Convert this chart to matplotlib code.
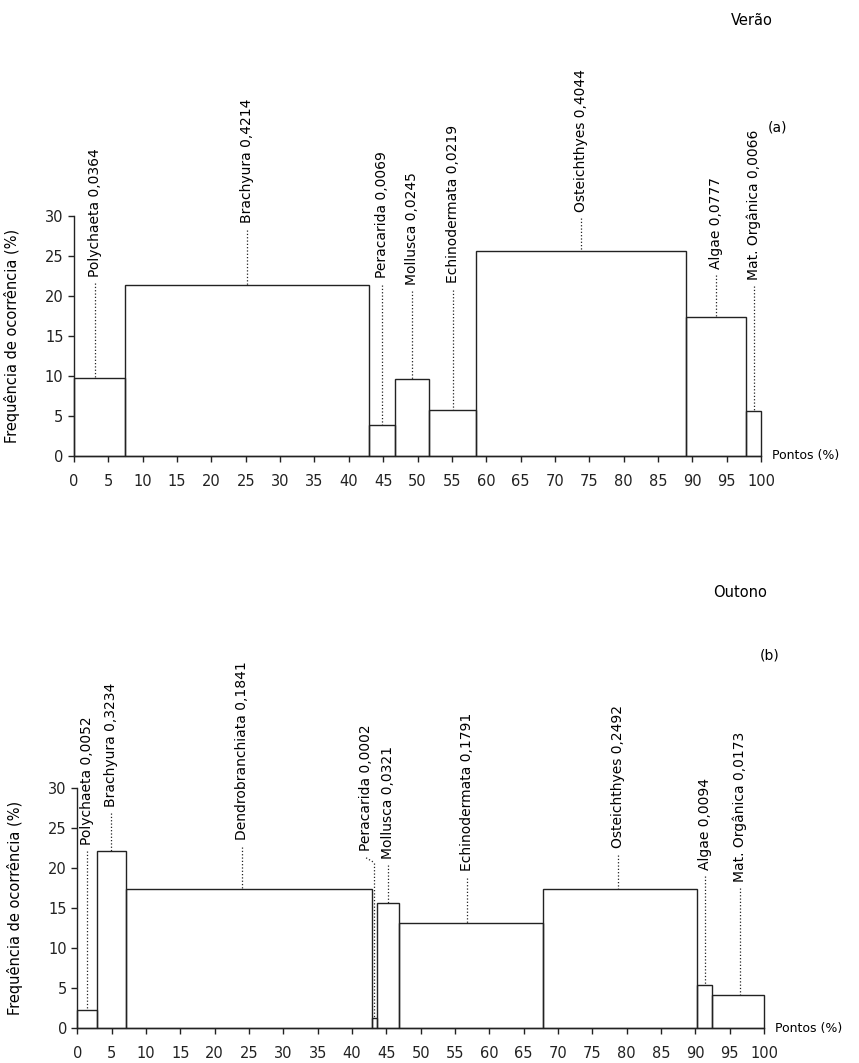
import numpy as np
import matplotlib.pyplot as plt

# Verão (a)
ver_names = ['Polychaeta 0,0364', 'Brachyura 0,4214', 'Peracarida 0,0069', 'Mollusca 0,0245',
             'Echinodermata 0,0219', 'Osteichthyes 0,4044', 'Algae 0,0777', 'Mat. Orgânica 0,0066']
ver_pontos = [7.4, 35.6, 3.7, 5.0, 6.8, 30.5, 8.8, 2.2]
ver_freq = [9.7, 21.4, 3.8, 9.6, 5.7, 25.6, 17.4, 5.6]

# Outono (b)
out_names = ['Polychaeta 0,0052', 'Brachyura 0,3234', 'Dendrobranchiata 0,1841', 'Peracarida 0,0002',
             'Mollusca 0,0321', 'Echinodermata 0,1791', 'Osteichthyes 0,2492', 'Algae 0,0094',
             'Mat. Orgânica 0,0173']
out_pontos = [2.9, 4.15, 35.85, 0.7, 3.25, 20.95, 22.5, 2.1, 7.6]
out_freq = [2.25, 22.2, 17.4, 1.2, 15.7, 13.1, 17.4, 5.4, 4.1]

# label placement (text bottom in y units, text x shift, bent leader)
ver_label_y = [22.4, 29.1, 22.2, 21.4, 21.6, 30.5, 23.4, 22.0]
ver_label_dx = [-0.6, 0, 0, 0, 0, 0, 0, 0]
ver_bent = [False] * 8
out_label_y = [22.9, 27.7, 23.5, 22.1, 21.2, 19.6, 22.5, 19.8, 18.3]
out_label_dx = [0, 0, -1.0, -1.2, 0, -0.6, -0.3, 0, 0.3]
out_bent = [False, False, False, True, False, False, False, False, False]

plt.rcParams['font.family'] = ['DejaVu Sans']
fig = plt.figure(figsize=(8.59, 10.63), dpi=100)

def panel(rect, names, pontos, freq, label_y, label_dx, bent):
    ax = fig.add_axes(rect)
    left = np.concatenate([[0], np.cumsum(pontos)[:-1]])
    ax.bar(left, freq, width=pontos, align='edge', fill=False,
           edgecolor='#222222', linewidth=1.0, clip_on=False)
    centers = left + np.array(pontos) / 2
    for name, cx, h, ly, dx, b in zip(names, centers, freq, label_y, label_dx, bent):
        tx = cx + dx
        top = ly - 0.8
        if b:
            ax.plot([tx, cx], [top, top - 0.6], color='#222222', lw=0.9, ls=':', clip_on=False)
            top = top - 0.6
            lx = cx
        else:
            lx = tx
        ax.plot([lx, lx], [top, h], color='#222222', lw=0.9, ls=':', clip_on=False)
        ax.text(tx, ly, name, rotation=90, ha='center', va='bottom', fontsize=10,
                clip_on=False)
    ax.set_xlim(0, 100)
    ax.set_ylim(0, 30)
    ax.set_xticks(np.arange(0, 101, 5))
    ax.set_yticks(np.arange(0, 31, 5))
    for s in ['top', 'right']:
        ax.spines[s].set_visible(False)
    for s in ['left', 'bottom']:
        ax.spines[s].set_color('#222222')
        ax.spines[s].set_linewidth(1.0)
    ax.tick_params(direction='out', length=4, width=1.0, labelsize=10.5, colors='#222222')
    ax.tick_params(axis='x', pad=9)
    ax.set_ylabel('Frequência de ocorrência (%)', fontsize=10.5, labelpad=18)
    ax.text(101.6, 0, 'Pontos (%)', ha='left', va='center', fontsize=9)
    return ax

panel([0.0861, 0.5713, 0.800, 0.2255], ver_names, ver_pontos, ver_freq,
      ver_label_y, ver_label_dx, ver_bent)
panel([0.0900, 0.0329, 0.7995, 0.2255], out_names, out_pontos, out_freq,
      out_label_y, out_label_dx, out_bent)

fig.text(0.875, 0.981, 'Verão', ha='center', va='center', fontsize=10.5)
fig.text(0.905, 0.880, '(a)', ha='center', va='center', fontsize=10)
fig.text(0.861, 0.443, 'Outono', ha='center', va='center', fontsize=10.5)
fig.text(0.896, 0.383, '(b)', ha='center', va='center', fontsize=10)

fig.savefig('out.png', dpi=100)
